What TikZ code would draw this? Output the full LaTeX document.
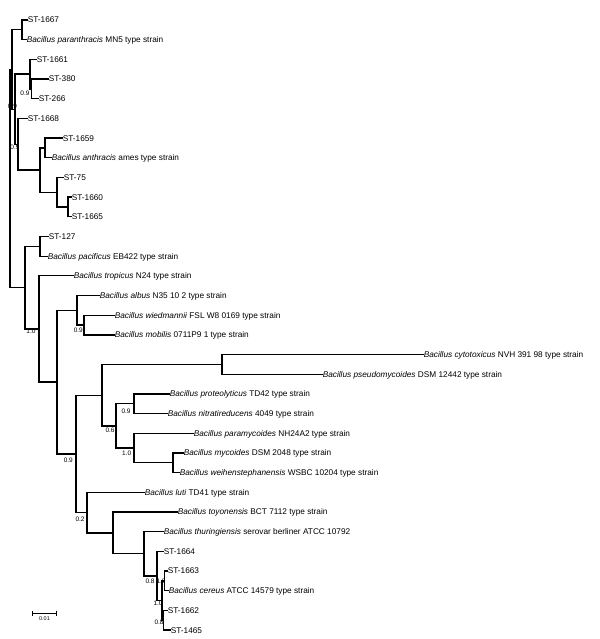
\documentclass[tikz,border=0pt]{standalone}
\usepackage{fontspec}
\setmainfont{Liberation Sans}
\begin{document}
\begin{tikzpicture}[x=1bp,y=-1bp]
\tikzset{
  br/.style={line width=1.3bp},
  leaf/.style={anchor=west, inner sep=0pt, xshift=0.6bp, text height=5.9bp, text depth=0bp, font=\fontsize{8.3}{9}\selectfont},
  bs/.style={anchor=center, inner sep=0pt, font=\fontsize{6.5}{7}\selectfont},
  scalebar/.style={line width=0.8bp}
}
\fill[white] (0,0) rectangle (600,639);
\useasboundingbox (0,0) rectangle (600,639);
% internal nodes
\coordinate (root) at (10,178.6);
\coordinate (C) at (12,69.51);
\coordinate (PC) at (22,29.84);
\coordinate (B) at (15,109.18);
\coordinate (W) at (30,74.12);
\coordinate (X) at (31.5,88.88);
\coordinate (A) at (18,144.23);
\coordinate (AC) at (40,170.06);
\coordinate (Z) at (45,147.92);
\coordinate (Y) at (57,192.2);
\coordinate (T2) at (68,206.96);
\coordinate (F) at (25,287.6);
\coordinate (PF) at (40,246.32);
\coordinate (D) at (39,328.97);
\coordinate (E) at (57,382.1);
\coordinate (U) at (77,310.28);
\coordinate (V) at (84,325.04);
\coordinate (G) at (76,453.9);
\coordinate (H) at (102,395.15);
\coordinate (P) at (222,364.4);
\coordinate (Q) at (116,425.9);
\coordinate (R) at (134,403.76);
\coordinate (S) at (134,448.04);
\coordinate (T) at (173,462.8);
\coordinate (I) at (87,512.6);
\coordinate (J) at (113,532.91);
\coordinate (K) at (144,553.82);
\coordinate (L) at (157,575.96);
\coordinate (M) at (162,600.56);
\coordinate (N) at (164.5,580.88);
\coordinate (O) at (163.5,620.24);
% leaves
\node[leaf] (l1) at (27,20.0) {ST-1667};
\node[leaf] (l2) at (26,39.68) {\textit{Bacillus paranthracis} MN5 type strain};
\node[leaf] (l3) at (36,59.36) {ST-1661};
\node[leaf] (l4) at (48,79.04) {ST-380};
\node[leaf] (l5) at (38,98.72) {ST-266};
\node[leaf] (l6) at (27,118.4) {ST-1668};
\node[leaf] (l7) at (62,138.08) {ST-1659};
\node[leaf] (l8) at (51,157.76) {\textit{Bacillus anthracis} ames type strain};
\node[leaf] (l9) at (63,177.44) {ST-75};
\node[leaf] (l10) at (71,197.12) {ST-1660};
\node[leaf] (l11) at (71,216.8) {ST-1665};
\node[leaf] (l12) at (48,236.48) {ST-127};
\node[leaf] (l13) at (47,256.16) {\textit{Bacillus pacificus} EB422 type strain};
\node[leaf] (l14) at (73,275.84) {\textit{Bacillus tropicus} N24 type strain};
\node[leaf] (l15) at (99,295.52) {\textit{Bacillus albus} N35 10 2 type strain};
\node[leaf] (l16) at (114,315.2) {\textit{Bacillus wiedmannii} FSL W8 0169 type strain};
\node[leaf] (l17) at (114,334.88) {\textit{Bacillus mobilis} 0711P9 1 type strain};
\node[leaf] (l18) at (423,354.56) {\textit{Bacillus cytotoxicus} NVH 391 98 type strain};
\node[leaf] (l19) at (322,374.24) {\textit{Bacillus pseudomycoides} DSM 12442 type strain};
\node[leaf] (l20) at (169,393.92) {\textit{Bacillus proteolyticus} TD42 type strain};
\node[leaf] (l21) at (167,413.6) {\textit{Bacillus nitratireducens} 4049 type strain};
\node[leaf] (l22) at (193,433.28) {\textit{Bacillus paramycoides} NH24A2 type strain};
\node[leaf] (l23) at (183,452.96) {\textit{Bacillus mycoides} DSM 2048 type strain};
\node[leaf] (l24) at (179,472.64) {\textit{Bacillus weihenstephanensis} WSBC 10204 type strain};
\node[leaf] (l25) at (144,492.32) {\textit{Bacillus luti} TD41 type strain};
\node[leaf] (l26) at (177,512) {\textit{Bacillus toyonensis} BCT 7112 type strain};
\node[leaf] (l27) at (163,531.68) {\textit{Bacillus thuringiensis} serovar berliner ATCC 10792};
\node[leaf] (l28) at (163,551.36) {ST-1664};
\node[leaf] (l29) at (167,571.04) {ST-1663};
\node[leaf] (l30) at (168,590.72) {\textit{Bacillus cereus} ATCC 14579 type strain};
\node[leaf] (l31) at (167,610.4) {ST-1662};
\node[leaf] (l32) at (170,630.08) {ST-1465};
% branches
\draw[br] (root) |- (C);
\draw[br] (root) |- (F);
\draw[br] (C) |- (PC);
\draw[br] (C) |- (B);
\draw[br] (PC) |- (l1.west);
\draw[br] (PC) |- (l2.west);
\draw[br] (B) |- (W);
\draw[br] (B) |- (A);
\draw[br] (W) |- (l3.west);
\draw[br] (W) |- (X);
\draw[br] (X) |- (l4.west);
\draw[br] (X) |- (l5.west);
\draw[br] (A) |- (l6.west);
\draw[br] (A) |- (AC);
\draw[br] (AC) |- (Z);
\draw[br] (AC) |- (Y);
\draw[br] (Z) |- (l7.west);
\draw[br] (Z) |- (l8.west);
\draw[br] (Y) |- (l9.west);
\draw[br] (Y) |- (T2);
\draw[br] (T2) |- (l10.west);
\draw[br] (T2) |- (l11.west);
\draw[br] (F) |- (PF);
\draw[br] (F) |- (D);
\draw[br] (PF) |- (l12.west);
\draw[br] (PF) |- (l13.west);
\draw[br] (D) |- (l14.west);
\draw[br] (D) |- (E);
\draw[br] (E) |- (U);
\draw[br] (E) |- (G);
\draw[br] (U) |- (l15.west);
\draw[br] (U) |- (V);
\draw[br] (V) |- (l16.west);
\draw[br] (V) |- (l17.west);
\draw[br] (G) |- (H);
\draw[br] (G) |- (I);
\draw[br] (H) |- (P);
\draw[br] (H) |- (Q);
\draw[br] (P) |- (l18.west);
\draw[br] (P) |- (l19.west);
\draw[br] (Q) |- (R);
\draw[br] (Q) |- (S);
\draw[br] (R) |- (l20.west);
\draw[br] (R) |- (l21.west);
\draw[br] (S) |- (l22.west);
\draw[br] (S) |- (T);
\draw[br] (T) |- (l23.west);
\draw[br] (T) |- (l24.west);
\draw[br] (I) |- (l25.west);
\draw[br] (I) |- (J);
\draw[br] (J) |- (l26.west);
\draw[br] (J) |- (K);
\draw[br] (K) |- (l27.west);
\draw[br] (K) |- (L);
\draw[br] (L) |- (l28.west);
\draw[br] (L) |- (M);
\draw[br] (M) |- (N);
\draw[br] (M) |- (O);
\draw[br] (N) |- (l29.west);
\draw[br] (N) |- (l30.west);
\draw[br] (O) |- (l31.west);
\draw[br] (O) |- (l32.west);
% bootstrap values
\node[bs] (bX) at (25,93.3) {0.9};
\node[bs] (bB) at (12.5,106.5) {0.9};
\node[bs] (bA) at (15,147) {0.9};
\node[bs] (bD) at (31,331) {1.0};
\node[bs] (bV) at (78.3,330) {0.9};
\node[bs] (bG) at (68.3,460.5) {0.9};
\node[bs] (bR) at (126,411) {0.9};
\node[bs] (bQ) at (110,430) {0.6};
\node[bs] (bS) at (126.7,453.3) {1.0};
\node[bs] (bI) at (80,519.3) {0.2};
\node[bs] (bL) at (150,581) {0.8};
\node[bs] (bN) at (161,581) {1.0};
\node[bs] (bM) at (158,603.5) {1.0};
\node[bs] (bO) at (159,622) {0.8};
% scale bar
\coordinate (sb1) at (32,613.3);
\coordinate (sb2) at (56,613.3);
\draw[scalebar] (sb1) -- (sb2);
\draw[scalebar] ([yshift=2.6bp]sb1) -- ([yshift=-2.6bp]sb1);
\draw[scalebar] ([yshift=2.6bp]sb2) -- ([yshift=-2.6bp]sb2);
\node[bs, font=\fontsize{5.5}{6}\selectfont] (sbl) at (44.5,618.7) {0.01};
\end{tikzpicture}
\end{document}
